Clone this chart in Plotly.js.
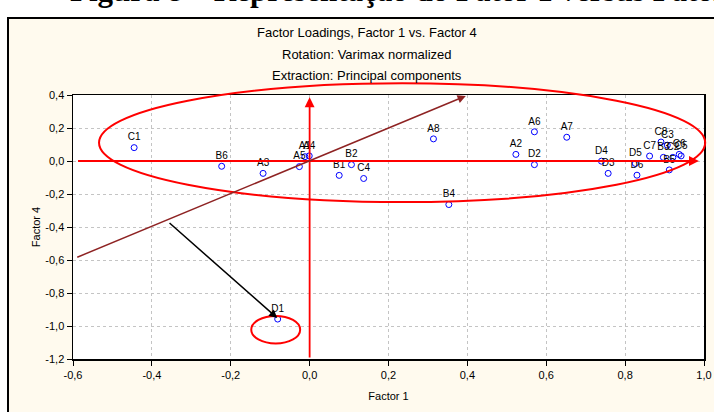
<!DOCTYPE html>
<html>
<head>
<meta charset="utf-8">
<script src="https://cdn.plot.ly/plotly-3.0.1.min.js"></script>
<style>html,body{margin:0;padding:0;background:#fff;}#chart{width:714px;height:412px;}</style>
</head>
<body>
<div id="chart"></div>
<script>
// ---- data ----
const labels = ["C1","B6","A3","A5","A1","A4","B1","B2","C4","A8","B4","A2","A6","D2","A7","D4","D3","D5","D6","C7","C8","C3","B3","C2","C6","C5","B5","D1"];
const factor1 = [-0.445,-0.223,-0.118,-0.026,-0.012,-0.001,0.075,0.106,0.137,0.314,0.353,0.523,0.570,0.570,0.652,0.740,0.757,0.826,0.830,0.862,0.891,0.907,0.897,0.921,0.937,0.942,0.912,-0.081];
const factor4 = [0.081,-0.032,-0.075,-0.034,0.026,0.031,-0.087,-0.022,-0.106,0.134,-0.264,0.040,0.177,-0.022,0.144,-0.001,-0.075,-0.015,-0.086,0.030,0.115,0.096,0.022,0.022,0.040,0.031,-0.054,-0.958];

const xTickVals = [-0.6,-0.4,-0.2,0,0.2,0.4,0.6,0.8,1.0];
const xTickText = ["-0,6","-0,4","-0,2","0,0","0,2","0,4","0,6","0,8","1,0"];
const yTickVals = [-1.2,-1.0,-0.8,-0.6,-0.4,-0.2,0,0.2,0.4];
const yTickText = ["-1,2","-1,0","-0,8","-0,6","-0,4","-0,2","0,0","0,2","0,4"];

const titleLines = ["Factor Loadings, Factor 1 vs. Factor 4","Rotation: Varimax normalized","Extraction: Principal components"];
const heading = "Figura 8 \u2013 Representa\u00e7\u00e3o do Fator 1 versus Fator 4";

// hand-drawn highlight marks (data coordinates)
const arrowTails = [[-0.591,0],[0,-1.2],[-0.593,-0.587],[-0.359,-0.368]];
const arrowHeads = [[0.987,0],[0,0.386],[0.396,0.394],[-0.082,-0.952]];
const arrowColors = ["#ff0000","#ff0000","#8e2323","#000000"];
const arrowWidths = [1.8,1.8,1.5,1.5];
const ellipseX = [[-0.534,1.003],[-0.148,-0.024]];
const ellipseY = [[-0.249,0.471],[-1.106,-0.939]];

const xRange = [-0.6,1.0], yRange = [-1.2,0.4];
const px = v => (v - xRange[0])/(xRange[1]-xRange[0]);
const py = v => (v - yRange[0])/(yRange[1]-yRange[0]);

const trace = {
  type:'scatter', mode:'markers+text',
  x: factor1, y: factor4, text: labels,
  textposition:'top center',
  textfont:{family:'Liberation Sans, Arial, sans-serif', size:10, color:'#000'},
  marker:{symbol:'circle-open', size:6, color:'#0000ff', line:{width:1, color:'#0000ff'}},
  cliponaxis:false, hoverinfo:'none'
};

const annotations = [];
for (let i=0;i<arrowTails.length;i++){
  annotations.push({
    x: arrowHeads[i][0], y: arrowHeads[i][1], xref:'x', yref:'y',
    ax: arrowTails[i][0], ay: arrowTails[i][1], axref:'x', ayref:'y',
    text:'', showarrow:true, arrowhead:2, arrowsize:1.1, arrowwidth:arrowWidths[i],
    arrowcolor: arrowColors[i], standoff:0, startstandoff:0
  });
}
const titleY = [1.235,1.155,1.072];
titleLines.forEach((t,i)=>annotations.push({
  text:t, xref:'paper', yref:'paper', x:0.466, y:titleY[i], xanchor:'center', yanchor:'middle',
  showarrow:false, font:{family:'Liberation Sans Narrow, Arial Narrow, Liberation Sans, sans-serif', size:13, color:'#000'}
}));
annotations.push({
  text:'<b>'+heading+'</b>', xref:'paper', yref:'paper', x:-0.008, y:1.322, xanchor:'left', yanchor:'bottom',
  showarrow:false, font:{family:'Liberation Serif, Times New Roman, serif', size:31, color:'#000'}
});

const shapes = [
  {type:'rect', xref:'paper', yref:'paper', x0:-0.103, x1:1.04, y0:-0.25, y1:1.292, layer:'below',
   fillcolor:'#fffaee', line:{color:'#000', width:2}},
  {type:'rect', xref:'paper', yref:'paper', x0:0, x1:1, y0:0, y1:1, layer:'below',
   fillcolor:'#ffffff', line:{width:0}}
];
for (let i=0;i<ellipseX.length;i++){
  shapes.push({type:'circle', xref:'paper', yref:'paper',
    x0:px(ellipseX[i][0]), x1:px(ellipseX[i][1]), y0:py(ellipseY[i][0]), y1:py(ellipseY[i][1]),
    layer:'above', line:{color:'#ff0000', width:2}});
}

const layout = {
  width:714, height:412,
  margin:{l:73, r:10, t:95, b:53},
  paper_bgcolor:'#ffffff', plot_bgcolor:'rgba(0,0,0,0)',
  showlegend:false,
  font:{family:'Liberation Sans, Arial, sans-serif', size:11, color:'#000'},
  xaxis:{range:xRange, tickvals:xTickVals, ticktext:xTickText, showgrid:true, gridcolor:'#c4c4c4', griddash:'dot', gridwidth:1,
    zeroline:false, showline:true, linecolor:'#000', linewidth:1.5, mirror:true, ticks:'outside', ticklen:5, tickcolor:'#000',
    title:{text:'Factor 1', font:{size:11}, standoff:12}, tickfont:{size:11}, automargin:false},
  yaxis:{range:yRange, tickvals:yTickVals, ticktext:yTickText, showgrid:true, gridcolor:'#c4c4c4', griddash:'dot', gridwidth:1,
    zeroline:false, showline:true, linecolor:'#000', linewidth:1.5, mirror:true, ticks:'outside', ticklen:5, tickcolor:'#000',
    title:{text:'Factor 4', font:{size:11}, standoff:2}, tickfont:{size:11}, automargin:false},
  annotations: annotations,
  shapes: shapes
};

Plotly.newPlot('chart',[trace],layout,{staticPlot:true});
</script>
</body>
</html>
